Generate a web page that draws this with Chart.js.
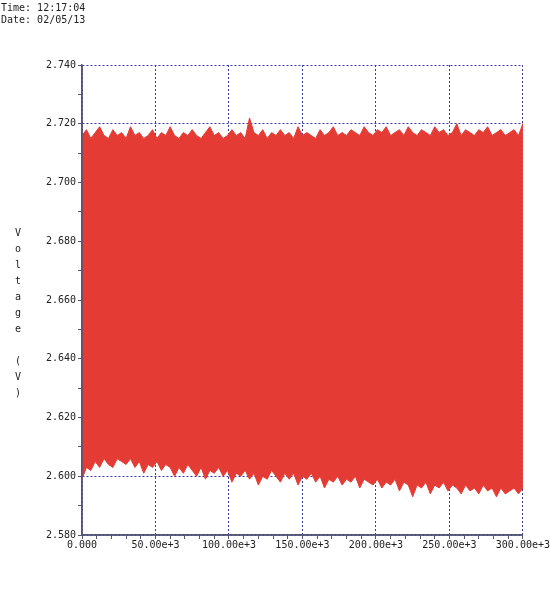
<!DOCTYPE html>
<html><head><meta charset="utf-8">
<script src="https://cdn.jsdelivr.net/npm/chart.js@4"></script>
<style>
body{margin:0;background:#fff;width:550px;height:600px;overflow:hidden;font-family:"DejaVu Sans Mono",monospace;}
#hdr{position:absolute;left:1px;top:2px;font-size:10px;line-height:12px;color:#222;white-space:pre;}
#ylab{position:absolute;left:12px;top:225px;font-size:10px;line-height:16px;color:#222;width:12px;text-align:center;}
#wrap{position:absolute;left:0;top:0;width:550px;height:600px;}
</style></head><body>
<div id="wrap"><canvas id="c" width="550" height="600"></canvas></div>
<div id="hdr">Time: 12:17:04
Date: 02/05/13</div>
<div id="ylab">V<br>o<br>l<br>t<br>a<br>g<br>e<br><br>(<br>V<br>)</div>
<script>
const upperV=[2.716,2.718,2.715,2.717,2.719,2.716,2.715,2.718,2.716,2.717,2.715,2.719,2.716,2.717,2.715,2.716,2.718,2.715,2.717,2.716,2.719,2.716,2.715,2.717,2.716,2.718,2.716,2.715,2.717,2.719,2.716,2.717,2.715,2.716,2.718,2.716,2.717,2.715,2.722,2.717,2.716,2.718,2.715,2.717,2.716,2.718,2.716,2.717,2.715,2.719,2.716,2.717,2.716,2.715,2.718,2.716,2.717,2.719,2.716,2.717,2.716,2.718,2.717,2.716,2.719,2.717,2.716,2.718,2.717,2.719,2.716,2.717,2.718,2.716,2.719,2.717,2.716,2.718,2.717,2.716,2.719,2.717,2.718,2.716,2.717,2.720,2.716,2.718,2.717,2.716,2.718,2.717,2.719,2.716,2.717,2.718,2.716,2.717,2.718,2.716,2.720];
const lowerV=[2.599,2.603,2.602,2.605,2.603,2.606,2.604,2.603,2.606,2.605,2.604,2.606,2.603,2.605,2.601,2.604,2.603,2.605,2.602,2.604,2.603,2.600,2.603,2.601,2.604,2.602,2.600,2.603,2.599,2.602,2.601,2.603,2.600,2.602,2.598,2.601,2.600,2.602,2.599,2.601,2.597,2.600,2.599,2.602,2.600,2.598,2.601,2.599,2.601,2.597,2.600,2.599,2.601,2.598,2.600,2.596,2.599,2.598,2.600,2.597,2.599,2.598,2.600,2.596,2.599,2.598,2.597,2.599,2.596,2.598,2.597,2.599,2.595,2.598,2.597,2.593,2.597,2.596,2.598,2.594,2.597,2.596,2.598,2.595,2.597,2.596,2.594,2.597,2.595,2.596,2.594,2.597,2.595,2.596,2.593,2.596,2.594,2.595,2.596,2.594,2.596];
const xMax=300000;
const xTickLabels={0:"0.000",50000:"50.00e+3",100000:"100.00e+3",150000:"150.00e+3",200000:"200.00e+3",250000:"250.00e+3",300000:"300.00e+3"};
const yTickLabels={2.58:"2.580",2.6:"2.600",2.62:"2.620",2.64:"2.640",2.66:"2.660",2.68:"2.680",2.7:"2.700",2.72:"2.720",2.74:"2.740"};
const step=xMax/(upperV.length-1);
const up=upperV.map((v,i)=>({x:i*step,y:v}));
const lo=lowerV.map((v,i)=>({x:i*step,y:v}));
const red='#e43c35';
const gridCol='#3a3a9a';
const isMajX=v=>Math.round(v)%50000===0;
const isMajY=v=>Math.abs(v*50-Math.round(v*50))<1e-6;
new Chart(document.getElementById('c'),{
type:'line',
data:{datasets:[
{data:up,borderColor:red,borderWidth:1,pointRadius:0,fill:false,tension:0},
{data:lo,borderColor:red,borderWidth:1,pointRadius:0,fill:'-1',backgroundColor:red,tension:0}]},
options:{animation:false,responsive:false,devicePixelRatio:1,
layout:{padding:{top:65,right:26,left:0,bottom:0}},
plugins:{legend:{display:false},tooltip:{enabled:false}},
scales:{
x:{type:'linear',min:0,max:xMax,
afterFit:s=>{s.height=65;},
afterBuildTicks:s=>{const t=[];for(let v=0;v<=xMax;v+=10000)t.push({value:v});s.ticks=t;},
ticks:{autoSkip:false,maxRotation:0,color:'#222',font:{family:'DejaVu Sans Mono',size:10},padding:0,
callback:v=>xTickLabels[Math.round(v)]!==undefined?xTickLabels[Math.round(v)]:''},
grid:{drawOnChartArea:true,tickLength:4,lineWidth:1,
color:c=>isMajX(c.tick.value)?gridCol:'rgba(0,0,0,0)',
tickColor:'#555577'},
border:{display:true,color:'#55557a',width:1.5,dash:[2,2]}},
y:{min:2.58,max:2.74,
afterFit:s=>{s.width=82;},
afterBuildTicks:s=>{const t=[];for(let i=0;i<=16;i++)t.push({value:+(2.58+i*0.01).toFixed(3)});s.ticks=t;},
ticks:{autoSkip:false,color:'#222',font:{family:'DejaVu Sans Mono',size:10},padding:2,
callback:v=>{const k=+(+v).toFixed(2);return isMajY(v)&&yTickLabels[k]?yTickLabels[k]:'';}},
grid:{tickLength:4,lineWidth:1,
color:c=>isMajY(c.tick.value)?gridCol:'rgba(0,0,0,0)',
tickColor:'#555577'},
border:{display:true,color:'#55557a',width:1.5,dash:[2,2]}}
}},
plugins:[{id:'axes',afterDraw(ch){
const a=ch.chartArea,ctx=ch.ctx;ctx.save();ctx.strokeStyle='#55557a';ctx.lineWidth=1.5;
ctx.beginPath();ctx.moveTo(a.left,a.top);ctx.lineTo(a.left,a.bottom);ctx.lineTo(a.right,a.bottom);ctx.stroke();ctx.restore();}}]
});
</script>
</body></html>
